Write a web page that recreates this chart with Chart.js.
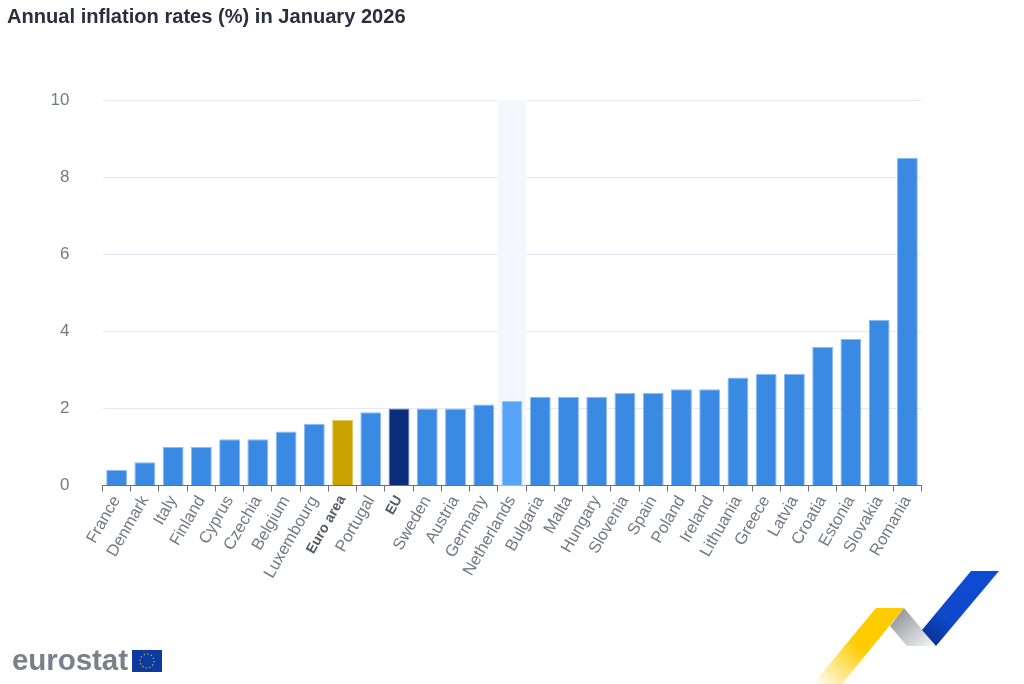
<!DOCTYPE html>
<html>
<head>
<meta charset="utf-8">
<title>Annual inflation rates</title>
<script src="https://cdn.jsdelivr.net/npm/chart.js@4/dist/chart.umd.min.js"></script>
<style>
    html, body { margin: 0; padding: 0; background: #fff; }
    body { width: 1024px; height: 684px; position: relative; overflow: hidden; font-family: "Liberation Sans", Arial, sans-serif; }
    #grafico { position: absolute; left: 0; top: 0; }
    #titulo { position: absolute; left: 7px; top: 5px; font-size: 20.1px; line-height: 22px; font-weight: bold; color: #2a2f3e; white-space: nowrap; }
    #marca { position: absolute; left: 12px; top: 644px; font-size: 29.6px; line-height: 32px; font-weight: bold; color: #7b7f8a; letter-spacing: -0.1px; }
    #bandera { position: absolute; left: 132px; top: 650px; }
    #cinta { position: absolute; left: 0; top: 0; }
</style>
</head>
<body>
<canvas id="grafico" width="1024" height="684"></canvas>
<div id="titulo">Annual inflation rates (%) in January 2026</div>
<div id="marca">eurostat</div>
<svg id="bandera" width="30" height="22" viewBox="0 0 30 22">
    <rect width="30" height="22" fill="#0d3a9e"/>
    <circle cx="15" cy="11" r="7" fill="none" stroke="#e0c33a" stroke-width="1.2" stroke-dasharray="1.2 2.47"/>
</svg>
<svg id="cinta" width="1024" height="684">
    <defs>
        <linearGradient id="amarillo" x1="813" y1="684" x2="890" y2="608" gradientUnits="userSpaceOnUse">
            <stop offset="0" stop-color="#ffcc00" stop-opacity="0"/>
            <stop offset="0.55" stop-color="#ffcc00"/>
            <stop offset="1" stop-color="#ffcc00"/>
        </linearGradient>
        <linearGradient id="gris" x1="893" y1="612" x2="925" y2="650" gradientUnits="userSpaceOnUse">
            <stop offset="0" stop-color="#8f9196"/>
            <stop offset="1" stop-color="#f0f1f3"/>
        </linearGradient>
        <linearGradient id="azul" x1="975" y1="590" x2="925" y2="645" gradientUnits="userSpaceOnUse">
            <stop offset="0" stop-color="#0f4bd0"/>
            <stop offset="0.55" stop-color="#0f48c8"/>
            <stop offset="1" stop-color="#072f8c"/>
        </linearGradient>
    </defs>
    <polygon points="876,608 904,608 842,684 813,684" fill="url(#amarillo)"/>
    <polygon points="904,608 936,646 907,646 890,626" fill="url(#gris)"/>
    <polygon points="971,571 999,571 936,646 922,630" fill="url(#azul)"/>
</svg>

<script>
const categorias = ['France', 'Denmark', 'Italy', 'Finland', 'Cyprus', 'Czechia', 'Belgium', 'Luxembourg', 'Euro area', 'Portugal', 'EU', 'Sweden', 'Austria', 'Germany', 'Netherlands', 'Bulgaria', 'Malta', 'Hungary', 'Slovenia', 'Spain', 'Poland', 'Ireland', 'Lithuania', 'Greece', 'Latvia', 'Croatia', 'Estonia', 'Slovakia', 'Romania'];
const valores = [0.4, 0.6, 1, 1, 1.2, 1.2, 1.4, 1.6, 1.7, 1.9, 2, 2, 2, 2.1, 2.2, 2.3, 2.3, 2.3, 2.4, 2.4, 2.5, 2.5, 2.8, 2.9, 2.9, 3.6, 3.8, 4.3, 8.5];
const marcasY = [0, 2, 4, 6, 8, 10];
const enNegrita = ['Euro area', 'EU'];
const resaltada = 'Netherlands';

function colorBarra(ctx) {
    const nombre = categorias[ctx.dataIndex];
    if (nombre == 'Euro area') return '#c9a200';
    if (nombre == 'EU') return '#0a2d7c';
    if (nombre == resaltada) return '#58a4f7';
    return '#3a8ae4';
}

function bordeBarra(ctx) {
    const nombre = categorias[ctx.dataIndex];
    if (nombre == 'Euro area') return '#dfc766';
    if (nombre == 'EU') return '#6c82b4';
    if (nombre == resaltada) return '#9ac8fa';
    return '#8cbcf0';
}

// banda clara detras de la categoria resaltada
const bandaResaltada = {
    id: 'bandaResaltada',
    beforeDatasetsDraw(chart) {
        const x = chart.scales.x;
        const area = chart.chartArea;
        const ancho = x.width / categorias.length;
        const ctx = chart.ctx;
        ctx.save();
        ctx.fillStyle = '#f6f7fd';
        ctx.fillRect(x.getPixelForValue(categorias.indexOf(resaltada)) - ancho / 2, area.top, ancho, area.height);
        ctx.restore();
    }
};

new Chart(document.getElementById('grafico').getContext('2d'), {
    type: 'bar',
    data: {
        labels: categorias,
        datasets: [{
            data: valores,
            backgroundColor: colorBarra,
            borderColor: bordeBarra,
            borderWidth: 1,
            barPercentage: 0.74,
            categoryPercentage: 1
        }]
    },
    plugins: [bandaResaltada],
    options: {
        responsive: false,
        animation: false,
        layout: { padding: { top: 100, right: 102.5, left: 0, bottom: 0 } },
        plugins: {
            legend: { display: false },
            tooltip: { enabled: false }
        },
        scales: {
            x: {
                afterFit: function (scale) { scale.height = 198.5; },
                border: { color: '#6b6e78', width: 1 },
                grid: { drawOnChartArea: false, color: '#6b6e78', tickLength: 6, offset: true },
                ticks: {
                    autoSkip: false,
                    minRotation: 60,
                    maxRotation: 60,
                    padding: 1,
                    color: function (ctx) { return enNegrita.includes(categorias[ctx.index]) ? '#555963' : '#757985'; },
                    font: function (ctx) {
                        return enNegrita.includes(categorias[ctx.index])
                            ? { family: 'Liberation Sans', size: 14, weight: 'bold' }
                            : { family: 'Liberation Sans', size: 16.5 };
                    }
                }
            },
            y: {
                min: 0,
                max: 10,
                afterFit: function (scale) { scale.width = 102.5; },
                afterBuildTicks: function (scale) { scale.ticks = marcasY.map(v => ({ value: v })); },
                border: { display: false },
                grid: { color: '#e4e7f5', drawTicks: false },
                ticks: {
                    padding: 33,
                    color: '#757985',
                    font: { family: 'Liberation Sans', size: 17 }
                }
            }
        }
    }
});
</script>
</body>
</html>
